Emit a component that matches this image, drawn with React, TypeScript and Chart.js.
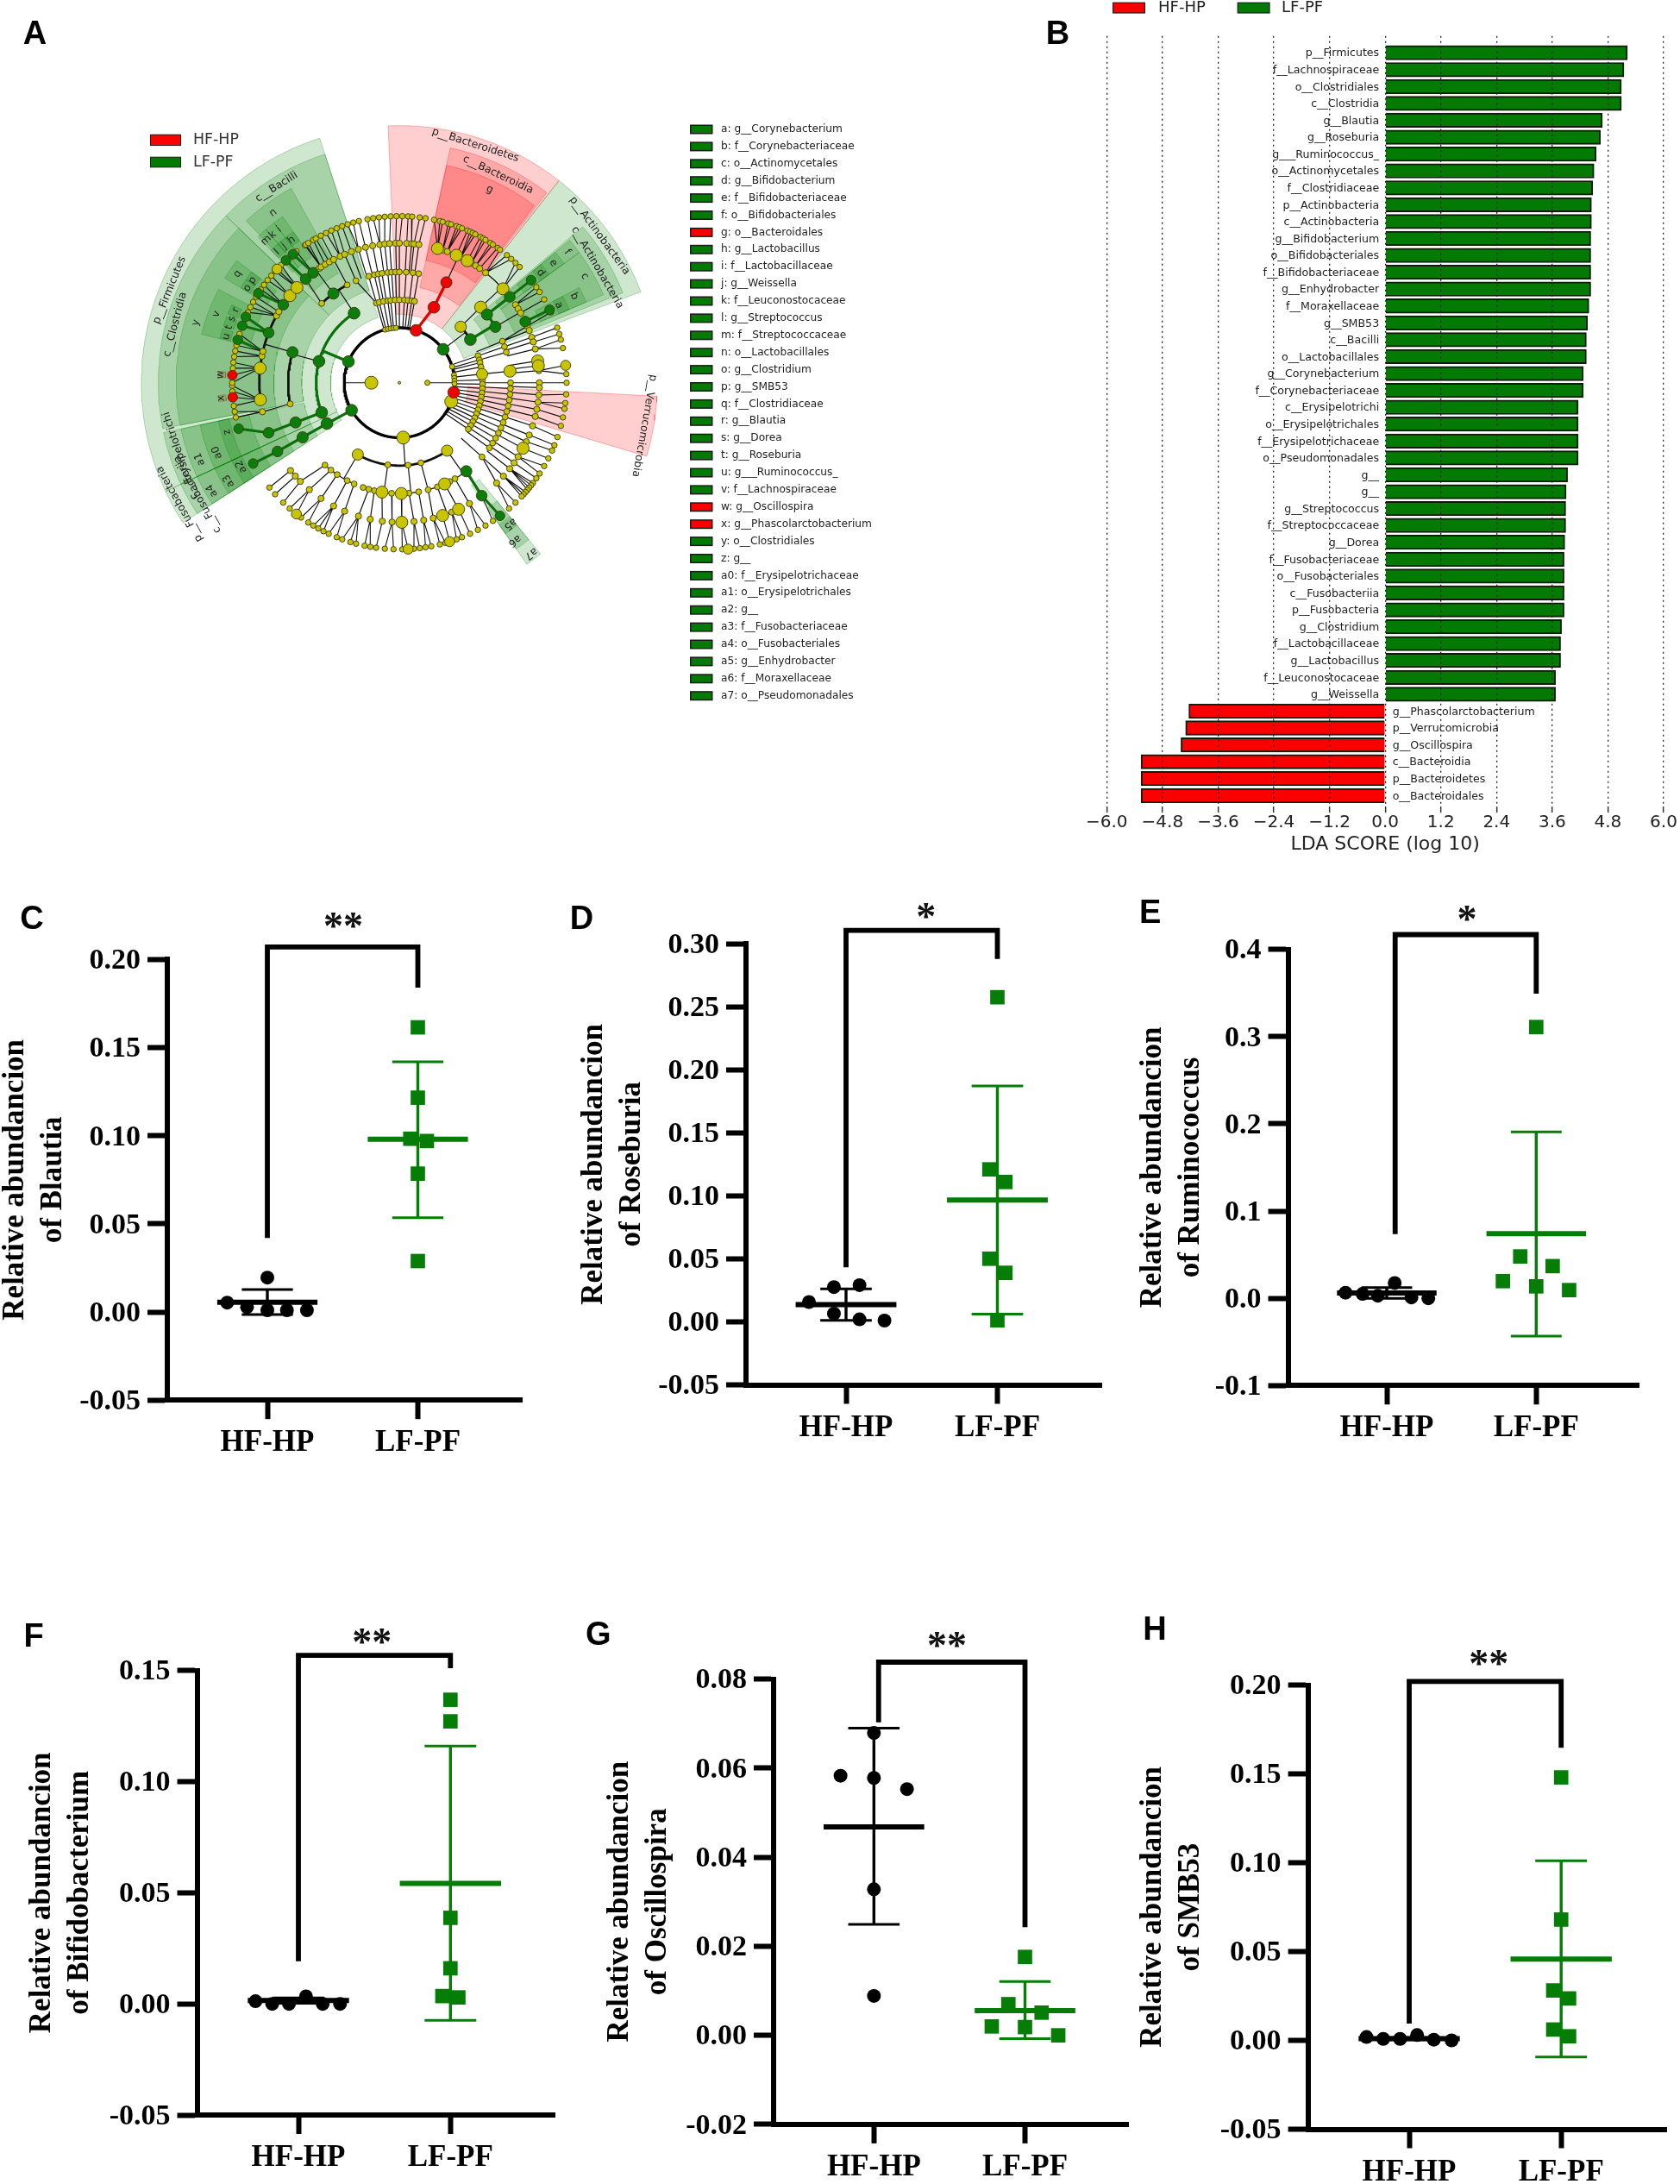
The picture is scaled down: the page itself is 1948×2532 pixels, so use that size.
import React, { useEffect, useRef } from "react";
import { Chart, registerables } from "chart.js";

Chart.register(...registerables);

/* ---------- Panel B values ---------- */
const ldaNames = ["p__Firmicutes","f__Lachnospiraceae","o__Clostridiales","c__Clostridia","g__Blautia","g__Roseburia","g___Ruminococcus_","o__Actinomycetales","f__Clostridiaceae","p__Actinobacteria","c__Actinobacteria","g__Bifidobacterium","o__Bifidobacteriales","f__Bifidobacteriaceae","g__Enhydrobacter","f__Moraxellaceae","g__SMB53","c__Bacilli","o__Lactobacillales","g__Corynebacterium","f__Corynebacteriaceae","c__Erysipelotrichi","o__Erysipelotrichales","f__Erysipelotrichaceae","o__Pseudomonadales","g__","g__","g__Streptococcus","f__Streptococcaceae","g__Dorea","f__Fusobacteriaceae","o__Fusobacteriales","c__Fusobacteriia","p__Fusobacteria","g__Clostridium","f__Lactobacillaceae","g__Lactobacillus","f__Leuconostocaceae","g__Weissella","g__Phascolarctobacterium","p__Verrucomicrobia","g__Oscillospira","c__Bacteroidia","p__Bacteroidetes","o__Bacteroidales"];
const ldaScores = [5.22,5.145,5.09,5.09,4.68,4.64,4.545,4.5,4.47,4.445,4.445,4.43,4.43,4.43,4.43,4.39,4.36,4.335,4.335,4.27,4.27,4.16,4.16,4.16,4.16,3.93,3.9,3.89,3.89,3.87,3.855,3.855,3.855,3.855,3.8,3.78,3.78,3.67,3.67,-4.23,-4.3,-4.4,-5.26,-5.26,-5.26];
const ldaTicks = [-6,-4.8,-3.6,-2.4,-1.2,0,1.2,2.4,3.6,4.8,6];

/* ---------- Panel A lists (clock angle in degrees, ring by level) ---------- */
const cladeKey = ["a: g__Corynebacterium","b: f__Corynebacteriaceae","c: o__Actinomycetales","d: g__Bifidobacterium","e: f__Bifidobacteriaceae","f: o__Bifidobacteriales","g: o__Bacteroidales","h: g__Lactobacillus","i: f__Lactobacillaceae","j: g__Weissella","k: f__Leuconostocaceae","l: g__Streptococcus","m: f__Streptococcaceae","n: o__Lactobacillales","o: g__Clostridium","p: g__SMB53","q: f__Clostridiaceae","r: g__Blautia","s: g__Dorea","t: g__Roseburia","u: g___Ruminococcus_","v: f__Lachnospiraceae","w: g__Oscillospira","x: g__Phascolarctobacterium","y: o__Clostridiales","z: g__","a0: f__Erysipelotrichaceae","a1: o__Erysipelotrichales","a2: g__","a3: f__Fusobacteriaceae","a4: o__Fusobacteriales","a5: g__Enhydrobacter","a6: f__Moraxellaceae","a7: o__Pseudomonadales"];
const cladeKeyRed = ["g", "w", "x"];
const ringRadii = [33, 65, 98, 131, 165, 197];
const ringSmall = [3, 3, 3.4, 3.4, 3.6, 3.2];
const ringBig = [7.5, 7.5, 6.5, 7, 7, 5.8];
const ringMark = [7, 6.8, 6.8, 6.5, 6.2, 5.6];

const yellowSmall: number[][] = [
  [90],
  [345,348,351,354,356.5,73,82,85,88,91],
  [344,346,349,352,354,357,0,3.5,6,8.6,10.5,71,74,76,79,88,91,94,97,100,103,106,109,112,115,118,121,124,165,174,188],
  [344,347,349,351,354,356,358,0,3.5,7,10,68,71,74,90,93,96,99,102,105,108,111,114,117,120,123,126,132,150,153,160,165,170,175,184,193,196,199,204,208,214,218,222,259,315.7,332,337],
  [325,326,328,330,332,335,337,340,343,346,349,352,354,356,358.5,0,3,5,6,8,18,20,26,31,33,35,38,56,58,60,66,68,71,73,76,85,90,92,95,98,101,104,108,112,115,122,125,128,132,136,150,158,166,170,174,183,187,192,197,203,208,214,220,225,228,231,258,281,283,298.7,300.6],
  [344,346,349,351,353,355,357,359,1,3,4.4,7,9,12,14,15,17,18,20,21,22,24,25,26,27,29,30,31,33,34,36,37,40,42,44,46,55,57,60,65,70.7,73,75,78,87,90,94,97,99,102,105,109,112,114,117,120,123,125,127,128,129,130,131,132,133,136,139,146,149,152,155,158,160,164,166,169,171,173,175,179,182,185,188,190,192,195,197,200,202,205,207,209,211,213,216,221,224,228,231,258,260,262,267,269,270,275,277,279,281,283,287,295,297,299,301,304,306,308,310,312,315,322,325.6,326,327,329,330,332,334,336,338,340,342],
];
const yellowBig: number[][] = [
  [270],
  [110,176],
  [47.5,84,145,210],
  [47,84,156,179,189],
  [15.8,24,29,47.7,81,83,118,155,162,179,263,276,308.6,313],
  [162.5,177,84,313,218],
];
const greenNodes: number[][] = [
  [],
  [52.6,240,292.6],
  [58.6,240.5,249,285,327],
  [52,59.7,143,240.5,249,286,323.6],
  [52,64,144,240.5,249,291,304,318,322],
  [52,64,143,241,254,284.9,290,293.3,302.5,317.3,320.5],
];
const redNodes: number[][] = [
  [],
  [17.6,100],
  [24.5],
  [25],
  [],
  [272.6,265],
];
/* ring, from angle, to angle, parent angle on the ring inside it */
const parentBands = [
  [2,245,330,292.6],[2,140,215,176],
  [3,50,62,58.6],[3,258,290,285],
  [4,14,34,25],[4,262,313,286],
  [5,250,256,249],
];
/* from, to: arcs of the tree where every branch runs straight out from the ring inside it */
const radialArcs = [[68,132],[340,360],[0,11]];
/* from, to, inner radius, outer radius, group */
const cladeSectors: [number, number, number, number, string][] = [
  [245,342,81,304,"g"],[259,314,115,284,"g"],[259,314,148,263,"g"],[283.8,297.4,181,240,"g"],[301,307,181,240,"g"],
  [284,287,205,218,"g"],[288,291,205,218,"g"],[292,295,205,218,"g"],[301,304,205,218,"g"],[304,307,205,218,"g"],
  [314,342,115,284,"g"],[316.7,331,148,263,"g"],[316,319,181,240,"g"],[319,322,181,240,"g"],[322,325,181,240,"g"],
  [316,319,205,218,"g"],[319,322,205,218,"g"],[322,325,205,218,"g"],
  [237,245,81,304,"g"],[237,245,115,284,"g"],[237,245,148,263,"g"],[237,245,181,240,"g"],[237,245,205,218,"g"],
  [245,258,115,284,"g"],[245,258,148,263,"g"],[245,258,181,240,"g"],[245,258,205,218,"g"],
  [38.2,69.3,81,304,"g"],[49.5,68,115,284,"g"],[50,54,148,262,"g"],[50,54,181,240,"g"],[50,54,205,218,"g"],
  [54,66.6,148,262,"g"],[62,66.6,181,240,"g"],[62,66.6,205,218,"g"],
  [140.6,145,148,262,"g"],[140.6,145,181,240,"g"],[140.6,145,205,218,"g"],
  [-2.5,38.2,81,304,"r"],[12.2,37.7,115,284,"r"],[12.2,37.2,148,263,"r"],
  [93,106.6,81,304,"r"],
  [264,266,205,214,"r"],[271.6,273.6,205,214,"r"],
];
/* text, radius, clock angle */
const cladeLabels: [string, number, number][] = [
  ["p__Firmicutes",292,292],["c__Clostridia",273,284.6],["c__Bacilli",273,328],
  ["p__Bacteroidetes",295,17.7],["c__Bacteroidia",272,25.3],["p__Actinobacteria",293,53.6],["c__Actinobacteria",270,59.7],
  ["p__Verrucomicrobia",293,100],["p__Fusobacteria",296,241],["c__Fusobacteriia",272,241],["c__Erysipelotrichi",272,251.5],
  ["y",250,286.5],["v",230,290.6],["q",230,304],["n",250,323.5],["m",230,317],["k",230,319.5],["i",230,322],
  ["l",211,317],["j",211,320],["h",211,323],["u",211,285],["t",211,288],["s",211,291],["r",211,294],
  ["o",211,302],["p",211,305],["w",211,272.6],["x",211,265],["z",211,254],
  ["a1",252,249],["a0",230,249],["a4",255,240],["a3",232,240],["a2",211,242],
  ["a5",212,142],["a6",231,144],["a7",254.6,142.5],["g",252,25],
  ["f",251,52],["e",230,52],["d",211,52],["c",252,60],["b",230,63.6],["a",209,64],
];

/* ---------- Panels C-H values ---------- */
const groupNames = ["HF-HP", "LF-PF"];

const blautiaHfX = [0.733,0.865,1,1,1.13,1.263];
const blautiaHfY = [0.0053,0.0028,0.001,0.0195,0.001,0.001];
const blautiaLfX = [2,2,1.95,2.06,2,2];
const blautiaLfY = [0.1615,0.1216,0.0983,0.097,0.0785,0.0289];
const blautiaStats = [0.0055,0.0127,-0.0015,0.098,0.142,0.0535];
const blautiaBracket = [1,2,0.2071,0.042,0.184];
const blautiaTicks = [-0.05,0,0.05,0.1,0.15,0.2];

const roseburiaHfX = [0.755,0.92,1.089,0.92,1.089,1.254];
const roseburiaHfY = [0.0157,0.0276,0.0291,0.0065,0.002,0.001];
const roseburiaLfX = [2,1.947,2.053,1.947,2.053,2];
const roseburiaLfY = [0.2576,0.121,0.111,0.0501,0.0389,0.0012];
const roseburiaStats = [0.0137,0.0261,0.0012,0.0967,0.1872,0.0062];
const roseburiaBracket = [1,2,0.3107,0.0433,0.288];
const roseburiaTicks = [-0.05,0,0.05,0.1,0.15,0.2,0.25,0.3];

const ruminoHfX = [0.724,0.838,0.94,1.053,1.165,1.278];
const ruminoHfY = [0.0064,0.005,0.003,0.0176,0.001,0];
const ruminoLfX = [2,1.893,2.11,1.777,2,2.22];
const ruminoLfY = [0.311,0.048,0.0369,0.0197,0.0137,0.0094];
const ruminoStats = [0.006,0.0124,0,0.0742,0.1907,-0.0433];
const ruminoBracket = [1.056,2,0.417,0.0737,0.3493];
const ruminoTicks = [-0.1,0,0.1,0.2,0.3,0.4];

const bifidoHfX = [0.718,0.828,0.938,1.05,1.16,1.274];
const bifidoHfY = [0.0012,0,0,0.0034,0,0];
const bifidoLfX = [2,2,2,2,1.947,2.052];
const bifidoLfY = [0.1368,0.1271,0.0387,0.016,0.0035,0.0029];
const bifidoStats = [0.0015,0.0027,0.0003,0.0542,0.116,-0.0074];
const bifidoBracket = [1,2,0.1568,0.0192,0.151];
const bifidoTicks = [-0.05,0,0.05,0.1,0.15];

const oscilloHfX = [0.779,1,1,1.219,1,1];
const oscilloHfY = [0.0583,0.0679,0.0578,0.0553,0.0328,0.00885];
const oscilloLfX = [2,1.89,2.11,1.78,2,2.22];
const oscilloLfY = [0.0176,0.007,0.0051,0.002,0.00185,0];
const oscilloStats = [0.0468,0.069,0.0249,0.00556,0.0121,-0.00076];
const oscilloBracket = [1.031,2,0.0838,0.0703,0.0243];
const oscilloTicks = [-0.02,0,0.02,0.04,0.06,0.08];

const smbHfX = [0.719,0.829,0.94,1.052,1.162,1.279];
const smbHfY = [0.0019,0.00085,0.00085,0.003,0.0004,0];
const smbLfX = [2,2,1.948,2.052,1.948,2.052];
const smbLfY = [0.148,0.068,0.0281,0.0236,0.0061,0.0023];
const smbStats = [0.001,0.0016,0.0004,0.0458,0.1011,-0.0093];
const smbBracket = [1,2,0.202,0.0095,0.1647];
const smbTicks = [-0.05,0,0.05,0.1,0.15,0.2];

/* ---------- layout ---------- */
const SERIF = '"Liberation Serif"';
const SANS = '"Liberation Sans"';
const DEJAVU = '"DejaVu Sans"';
const DARK_GREEN = "#067d06";
const BAR_GREEN = "#037a03";

type Panel = {
  letter: string; lx: number; ly: number; lines: string[]; line1: number;
  L: number; T: number; W: number; H: number;
  axisX: number; right: number; top: number; bottom: number; tick1: number; unit: number;
  ticks: number[]; digits: number; hfX: number[]; hfY: number[]; lfX: number[]; lfY: number[]; stats: number[]; bracket: number[];
  stars: string; starX: number; starY: number;
};

const panels: Panel[] = [
  { letter:"C", lx:37, ly:1067, lines:["Relative abundancion","of Blautia"], line1:18, L:0, T:1030, W:640, H:680, axisX:194, right:605, top:1112.4, bottom:1623.2, tick1:310, unit:174.5, ticks:blautiaTicks, digits:2, hfX:blautiaHfX, hfY:blautiaHfY, lfX:blautiaLfX, lfY:blautiaLfY, stats:blautiaStats, bracket:blautiaBracket, stars:"**", starX:1.504, starY:1067 },
  { letter:"D", lx:674.5, ly:1067, lines:["Relative abundancion","of Roseburia"], line1:689, L:640, T:1030, W:660, H:680, axisX:865, right:1277, top:1094.2, bottom:1605.5, tick1:981, unit:175.5, ticks:roseburiaTicks, digits:2, hfX:roseburiaHfX, hfY:roseburiaHfY, lfX:roseburiaLfX, lfY:roseburiaLfY, stats:roseburiaStats, bracket:roseburiaBracket, stars:"*", starX:1.528, starY:1056 },
  { letter:"E", lx:1333.6, ly:1060, lines:["Relative abundancion","of Ruminococcus"], line1:1337, L:1290, T:1030, W:658, H:680, axisX:1493.5, right:1900.6, top:1100.7, bottom:1606.3, tick1:1608, unit:173.3, ticks:ruminoTicks, digits:1, hfX:ruminoHfX, hfY:ruminoHfY, lfX:ruminoLfX, lfY:ruminoLfY, stats:ruminoStats, bracket:ruminoBracket, stars:"*", starX:1.537, starY:1059.5 },
  { letter:"F", lx:39, ly:1899, lines:["Relative abundancion","of Bifidobacterium"], line1:49, L:0, T:1850, W:660, H:682, axisX:228.5, right:643, top:1936.6, bottom:2452, tick1:346, unit:176.3, ticks:bifidoTicks, digits:2, hfX:bifidoHfX, hfY:bifidoHfY, lfX:bifidoLfX, lfY:bifidoLfY, stats:bifidoStats, bracket:bifidoBracket, stars:"**", starX:1.484, starY:1897 },
  { letter:"G", lx:693.7, ly:1897, lines:["Relative abundancion","of Oscillospira"], line1:718.6, L:660, T:1850, W:660, H:682, axisX:897, right:1312, top:1946.6, bottom:2462.9, tick1:1014.4, unit:176.8, ticks:oscilloTicks, digits:2, hfX:oscilloHfX, hfY:oscilloHfY, lfX:oscilloLfX, lfY:oscilloLfY, stats:oscilloStats, bracket:oscilloBracket, stars:"**", starX:1.483, starY:1901 },
  { letter:"H", lx:1339, ly:1891, lines:["Relative abundancion","of SMB53"], line1:1337, L:1290, T:1850, W:658, H:682, axisX:1516.6, right:1932, top:1953.5, bottom:2468.5, tick1:1634, unit:176.2, ticks:smbTicks, digits:2, hfX:smbHfX, hfY:smbHfY, lfX:smbLfX, lfY:smbLfY, stats:smbStats, bracket:smbBracket, stars:"**", starX:1.524, starY:1922 },
];

function put(ctx: any, text: string, x: number, y: number, font: string, color = "#000", align = "center", base = "middle", rot = 0) {
  ctx.save();
  ctx.translate(x, y);
  if (rot) ctx.rotate((rot * Math.PI) / 180);
  ctx.font = font;
  ctx.fillStyle = color;
  ctx.textAlign = align;
  ctx.textBaseline = base;
  ctx.fillText(text, 0, 0);
  ctx.restore();
}

/* ---------- charts C-H ---------- */
function lineSet(data: any[], color: string, width: number) {
  return { type: "scatter", data, showLine: true, borderColor: color, borderWidth: width, pointRadius: 0, clip: false, borderCapStyle: "butt", borderJoinStyle: "miter", tension: 0, spanGaps: false };
}
function groupSets(x: number, mean: number, hi: number, lo: number, color: string) {
  const halfMean = 0.333, halfCap = 0.17;
  return [
    lineSet([{ x: x - halfMean, y: mean }, { x: x + halfMean, y: mean }], color, 6),
    lineSet([{ x, y: hi }, { x, y: lo }], color, 3.4),
    lineSet([{ x: x - halfCap, y: hi }, { x: x + halfCap, y: hi }], color, 3),
    lineSet([{ x: x - halfCap, y: lo }, { x: x + halfCap, y: lo }], color, 3),
  ];
}
function makeScatterPanel(canvas: HTMLCanvasElement, p: Panel) {
  const xh = p.T + p.H - p.bottom;
  const [hm, hh, hl, lm, lh, ll] = p.stats;
  const [bx1, bx2, bTop, bLeft, bRight] = p.bracket;
  const toXY = (xs: number[], ys: number[]) => xs.map((x, i) => ({ x, y: ys[i] }));
  const TITLE_LH = 44;
  return new Chart(canvas, {
    type: "scatter",
    data: {
      datasets: [
        { data: toXY(p.hfX, p.hfY), pointStyle: "circle", pointRadius: 8, backgroundColor: "#000", borderColor: "#000", pointBorderWidth: 0, clip: false },
        { data: toXY(p.lfX, p.lfY), pointStyle: "rect", pointRadius: 11.8, backgroundColor: DARK_GREEN, borderColor: DARK_GREEN, pointBorderWidth: 0, clip: false },
        ...groupSets(1, hm, hh, hl, "#000"),
        ...groupSets(2, lm, lh, ll, DARK_GREEN),
        lineSet([{ x: bx1, y: bLeft }, { x: bx1, y: bTop }, { x: bx2, y: bTop }, { x: bx2, y: bRight }], "#000", 5.8),
      ] as any,
    },
    options: {
      responsive: false, maintainAspectRatio: false, animation: false, devicePixelRatio: 1,
      layout: { padding: { left: 0, top: p.top - p.T, right: p.L + p.W - p.right, bottom: 0 } },
      plugins: { legend: { display: false }, tooltip: { enabled: false } },
      scales: {
        x: {
          type: "linear", bounds: "data",
          min: 1 - (p.tick1 - p.axisX) / p.unit, max: 1 + (p.right - p.tick1) / p.unit,
          afterBuildTicks: (s: any) => { s.ticks = [{ value: 1 }, { value: 2 }]; },
          afterFit: (s: any) => { s.height = xh; },
          border: { display: true, color: "#000", width: 6 },
          grid: { drawOnChartArea: false, drawTicks: true, tickLength: 22, tickWidth: 6, tickColor: "#000" },
          ticks: { autoSkip: false, maxRotation: 0, minRotation: 0, padding: 7, color: "#000", font: { family: "Liberation Serif", size: 35, weight: "bold" }, callback: (v: any) => groupNames[Math.round(v) - 1] },
        },
        y: {
          type: "linear", bounds: "data",
          min: p.ticks[0], max: p.ticks[p.ticks.length - 1],
          afterBuildTicks: (s: any) => { s.ticks = p.ticks.map((value) => ({ value })); },
          afterFit: (s: any) => { s.width = p.axisX - p.L; },
          border: { display: true, color: "#000", width: 6 },
          grid: { drawOnChartArea: false, drawTicks: true, tickLength: 23, tickWidth: 6, tickColor: "#000" },
          ticks: { autoSkip: false, padding: 8, labelOffset: 2, color: "#000", font: { family: "Liberation Serif", size: 34, weight: "bold" }, callback: (v: any) => Number(v).toFixed(p.digits) },
          title: { display: true, text: p.lines, color: "#000", font: { family: "Liberation Serif", size: 35, weight: "bold", lineHeight: TITLE_LH / 35 }, padding: { top: p.line1 - p.L - TITLE_LH / 2, bottom: 0 } },
        },
      },
    } as any,
    plugins: [{
      id: "panelText",
      afterDraw(chart: any) {
        const ctx = chart.ctx;
        put(ctx, p.letter, p.lx - p.L, p.ly - p.T, `bold 38px ${SANS}`);
        put(ctx, p.stars, chart.scales.x.getPixelForValue(p.starX), p.starY - p.T + 21.6, `bold 46px ${SERIF}`, "#111", "center", "alphabetic");
      },
    }],
  });
}

/* ---------- chart B ---------- */
function makeLda(canvas: HTMLCanvasElement) {
  const H = 1000, top = 41.7, axis = 935, first = 61.2, step = 19.57;
  return new Chart(canvas, {
    type: "bar",
    data: {
      datasets: [{
        data: ldaScores.map((x, y) => ({ x, y })),
        backgroundColor: ldaScores.map((v) => (v > 0 ? BAR_GREEN : "#fb0000")),
        borderColor: "#0f1c0a", borderWidth: 2, barThickness: 16.6,
      }],
    },
    options: {
      indexAxis: "y", responsive: false, maintainAspectRatio: false, animation: false, devicePixelRatio: 1,
      layout: { padding: { left: 103.3, top, right: 19, bottom: 0 } },
      plugins: { legend: { display: false }, tooltip: { enabled: false } },
      scales: {
        y: {
          type: "linear", display: false, reverse: true, offset: false, bounds: "data",
          grid: { offset: false },
          min: (top - first) / step, max: (axis - first) / step,
        },
        x: {
          type: "linear", min: -6, max: 6, bounds: "data",
          afterBuildTicks: (s: any) => { s.ticks = ldaTicks.map((value) => ({ value })); },
          afterFit: (s: any) => { s.height = H - axis; },
          border: { display: false, dash: [2, 4] },
          grid: { z: 1, color: "#222", lineWidth: 1.3, drawTicks: true, tickLength: 7, tickWidth: 1.5, tickColor: "#333", tickBorderDash: [] },
          ticks: { autoSkip: false, maxRotation: 0, padding: 0, color: "#222", font: { family: "DejaVu Sans", size: 20 }, callback: (v: any) => (v < 0 ? "\u2212" : "") + Math.abs(v).toFixed(1) },
          title: { display: true, text: "LDA SCORE (log 10)", color: "#222", font: { family: "DejaVu Sans", size: 22, lineHeight: 1.2 }, padding: { top: 0, bottom: 8 } },
        },
      },
    } as any,
    plugins: [{
      id: "ldaText",
      afterDraw(chart: any) {
        const ctx = chart.ctx;
        const { x, y } = chart.scales;
        const zero = x.getPixelForValue(0);
        ldaNames.forEach((name, i) => {
          const py = y.getPixelForValue(i) + 1;
          if (ldaScores[i] > 0) put(ctx, name, zero - 7, py, `12.6px ${DEJAVU}`, "#222", "right");
          else put(ctx, name, zero + 8.5, py, `12.6px ${DEJAVU}`, "#222", "left");
        });
        ctx.fillStyle = "#222"; ctx.fillRect(110, 2.6, 38, 13);
        ctx.fillStyle = "#fb0000"; ctx.fillRect(111.2, 3.8, 35.6, 10.6);
        ctx.fillStyle = "#222"; ctx.fillRect(254.6, 2.6, 38, 13);
        ctx.fillStyle = BAR_GREEN; ctx.fillRect(255.8, 3.8, 35.6, 10.6);
        put(ctx, "HF-HP", 163, 9, `18px ${DEJAVU}`, "#222", "left");
        put(ctx, "LF-PF", 306, 9, `18px ${DEJAVU}`, "#222", "left");
        put(ctx, "B", 46.5, 41, `bold 38px ${SANS}`);
      },
    }],
  });
}

/* ---------- chart A ---------- */
const pol = (r: number, deg: number) => {
  const t = (deg * Math.PI) / 180;
  return { x: r * Math.sin(t), y: r * Math.cos(t) };
};
const GAP = { x: NaN, y: NaN };
function arcPts(r: number, a0: number, a1: number) {
  const pts: any[] = [];
  const n = Math.max(1, Math.ceil(Math.abs(a1 - a0) / 1.5));
  for (let i = 0; i <= n; i++) pts.push(pol(r, a0 + ((a1 - a0) * i) / n));
  return pts;
}
const delta = (a: number, b: number) => ((a - b + 540) % 360) - 180;

function allOnRing(k: number) {
  return [
    ...yellowSmall[k].map((a) => ({ a, kind: "y" })),
    ...yellowBig[k].map((a) => ({ a, kind: "Y" })),
    ...greenNodes[k].map((a) => ({ a, kind: "g" })),
    ...redNodes[k].map((a) => ({ a, kind: "r" })),
  ];
}
function parentOf(k: number, a: number, ring: { a: number; kind: string }[]) {
  const norm = ((a % 360) + 360) % 360;
  const band = parentBands.find((b) => b[0] === k && norm >= b[1] && norm <= b[2]);
  if (band) return ring.find((n) => n.a === band[3]) || ring[0];
  let best = ring[0];
  for (const n of ring) if (Math.abs(delta(a, n.a)) < Math.abs(delta(a, best.a))) best = n;
  return best;
}
function buildEdges() {
  const groups: Record<string, any[]> = {};
  const add = (color: string, width: number, pts: any[]) => {
    const key = `${color}|${width}`;
    (groups[key] = groups[key] || []).push(...pts, GAP);
  };
  const tone = (kind: string) => (kind === "g" ? "#0a700a" : kind === "r" ? "#e00000" : "#111");
  add("#000", 3.4, arcPts(ringRadii[1], 0, 360));
  add("#111", 1.2, [pol(ringRadii[0], 270), pol(ringRadii[1], 270)]);
  add("#111", 1.2, [pol(ringRadii[0], 90), pol(ringRadii[1], 90)]);
  for (let k = 2; k <= 5; k++) {
    const ring = allOnRing(k);
    const inner = allOnRing(k - 1);
    if (k === 5) {
      for (const n of ring) {
        const par = parentOf(k, n.a, inner);
        const colored = n.kind === "g";
        add(colored ? tone(n.kind) : "#111", colored ? 3 : 1.1, [pol(ringRadii[k], n.a), pol(ringRadii[k - 1], par.a)]);
      }
      continue;
    }
    const byParent = new Map<any, any[]>();
    for (const n of ring) {
      const norm = ((n.a % 360) + 360) % 360;
      const straight = n.kind !== "g" && n.kind !== "r" && radialArcs.some(([f, t]) => norm >= f && norm <= t);
      if (straight) {
        add("#111", 1.2, [pol(ringRadii[k], n.a), pol(ringRadii[k - 1], n.a)]);
        continue;
      }
      const par = parentOf(k, n.a, inner);
      if (!byParent.has(par)) byParent.set(par, []);
      byParent.get(par)!.push(n);
    }
    byParent.forEach((kids, par) => {
      const ds = kids.map((c: any) => delta(c.a, par.a));
      const lo = Math.min(...ds), hi = Math.max(...ds);
      const allColored = kids.every((c: any) => c.kind === par.kind && (c.kind === "g" || c.kind === "r"));
      const color = allColored ? tone(par.kind) : "#111";
      const heavy = k === 2 || par.kind === "g";
      const w = allColored ? 3.2 : kids.length > 1 ? (heavy ? 2.8 : 1.3) : 1.2;
      if (hi > lo) add(color, w, arcPts(ringRadii[k], par.a + lo, par.a + hi));
      const hit = Math.min(hi, Math.max(lo, 0));
      add(color, allColored ? 3.2 : 1.2, [pol(ringRadii[k - 1], par.a), pol(ringRadii[k], par.a + hit)]);
    });
  }
  return Object.keys(groups).map((key) => {
    const [c, w] = key.split("|");
    return { data: groups[key], showLine: true, borderColor: c, borderWidth: Number(w), pointRadius: 0, spanGaps: false, tension: 0, borderCapStyle: "butt" };
  });
}
function buildSectors() {
  return cladeSectors.map(([a0, a1, rIn, rOut, g]) => {
    const pts = [...arcPts(rOut, a0, a1), ...arcPts(rIn, a1, a0)];
    pts.push(pts[0]);
    const fill = g === "g" ? "rgba(0,128,0,0.19)" : "rgba(255,0,0,0.19)";
    const edge = g === "g" ? "rgba(0,128,0,0.28)" : "rgba(255,0,0,0.28)";
    return { data: pts, showLine: true, fill: "shape", backgroundColor: fill, borderColor: edge, borderWidth: 1, pointRadius: 0, tension: 0 };
  });
}
function buildNodes() {
  const pts: any[] = [], radius: number[] = [], colors: string[] = [];
  const add = (list: number[], k: number, rad: number, color: string) => {
    for (const a of list) { pts.push(pol(ringRadii[k], a)); radius.push(rad); colors.push(color); }
  };
  const YEL = "#c9c400";
  for (let k = 0; k < ringRadii.length; k++) {
    add(yellowSmall[k], k, ringSmall[k], YEL);
    add(yellowBig[k], k, ringBig[k], YEL);
  }
  for (let k = 0; k < ringRadii.length; k++) {
    add(greenNodes[k], k, ringMark[k], "#0a7d0a");
    add(redNodes[k], k, ringMark[k], "#f00000");
  }
  pts.push({ x: 0, y: 0 }); radius.push(1.6); colors.push(YEL);
  return { data: pts, pointRadius: radius, pointBackgroundColor: colors, pointBorderColor: "#3a3a10", pointBorderWidth: 0.9, showLine: false };
}
function makeCladogram(canvas: HTMLCanvasElement) {
  const cx = 462, cy = 444;
  return new Chart(canvas, {
    type: "scatter",
    data: { datasets: [buildNodes(), ...buildEdges(), ...buildSectors()] as any },
    options: {
      responsive: false, maintainAspectRatio: false, animation: false, devicePixelRatio: 1,
      plugins: { legend: { display: false }, tooltip: { enabled: false } },
      scales: {
        x: { type: "linear", display: false, min: -cx, max: 1060 - cx },
        y: { type: "linear", display: false, min: cy - 860, max: cy },
      },
    } as any,
    plugins: [{
      id: "cladeText",
      afterDraw(chart: any) {
        const ctx = chart.ctx;
        const { x, y } = chart.scales;
        cladeLabels.forEach(([text, r, a]) => {
          const p = pol(r, a);
          put(ctx, text, x.getPixelForValue(p.x), y.getPixelForValue(p.y), `${text.length > 3 ? 12.3 : 12}px ${DEJAVU}`, "#222", "center", "middle", a);
        });
        cladeKey.forEach((label, i) => {
          const py = 150 + i * 19.9;
          const isRed = cladeKeyRed.includes(label.split(":")[0]);
          ctx.fillStyle = "#1a1a1a"; ctx.fillRect(800, py - 5.5, 26.5, 11);
          ctx.fillStyle = isRed ? "#fb0000" : BAR_GREEN; ctx.fillRect(801.5, py - 4, 23.5, 8);
          put(ctx, label, 836, py, `12.2px ${DEJAVU}`, "#222", "left");
        });
        ctx.fillStyle = "#222"; ctx.fillRect(174, 155.7, 36, 13.4);
        ctx.fillStyle = "#fb0000"; ctx.fillRect(175, 156.7, 34, 11.4);
        ctx.fillStyle = "#222"; ctx.fillRect(174, 181.7, 36, 12.6);
        ctx.fillStyle = BAR_GREEN; ctx.fillRect(175, 182.7, 34, 10.6);
        put(ctx, "HF-HP", 224, 162.5, `17.4px ${DEJAVU}`, "#333", "left");
        put(ctx, "LF-PF", 224, 188, `17.4px ${DEJAVU}`, "#333", "left");
        put(ctx, "A", 40.5, 41, `bold 38px ${SANS}`);
      },
    }],
  });
}

function Canvas({ left, top, width, height, make }: { left: number; top: number; width: number; height: number; make: (c: HTMLCanvasElement) => any }) {
  const ref = useRef<HTMLCanvasElement | null>(null);
  useEffect(() => {
    const chart = make(ref.current!);
    return () => chart.destroy();
  }, []);
  return <canvas ref={ref} width={width} height={height} style={{ position: "absolute", left, top, width, height }} />;
}

export default function App() {
  return (
    <div style={{ position: "absolute", left: 0, top: 0, width: 1948, height: 2532, background: "#fff", overflow: "hidden" }}>
      <Canvas left={0} top={0} width={1060} height={860} make={makeCladogram} />
      <Canvas left={1180} top={0} width={768} height={1000} make={makeLda} />
      {panels.map((p) => (
        <Canvas key={p.letter} left={p.L} top={p.T} width={p.W} height={p.H} make={(c) => makeScatterPanel(c, p)} />
      ))}
    </div>
  );
}
